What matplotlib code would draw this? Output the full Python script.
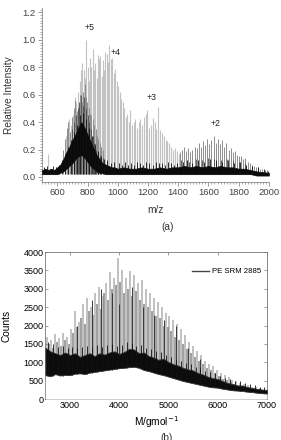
import numpy as np
import matplotlib
matplotlib.use("Agg")
import matplotlib.pyplot as plt
from matplotlib.lines import Line2D
from matplotlib.ticker import MultipleLocator

plt.rcParams['font.family'] = ['Liberation Sans', 'DejaVu Sans']

# ---- panel (a): ESI mass spectrum, m/z vs relative intensity ----
# tall light grey peaks (charge states +5/+4/+3)
a_light_mz = [542, 655, 668, 680, 692, 703, 715, 727, 738, 748, 758, 766, 775, 783, 791,
              800, 808, 816, 825, 834, 843, 852, 860, 868, 876, 884, 893, 903, 911, 919,
              928, 936, 944, 953, 962, 972, 982, 992, 1002, 1012, 1022, 1032, 1042, 1052,
              1062, 1073, 1083, 1094, 1105, 1116, 1127, 1138, 1149, 1160, 1172, 1184, 1195,
              1208, 1220, 1232, 1245, 1256, 1266, 1280, 1292, 1304, 1316, 1328, 1340, 1352,
              1364, 1376, 1390, 1402]
a_light_h = [0.17, 0.30, 0.40, 0.42, 0.38, 0.45, 0.58, 0.55, 0.62, 0.70, 0.78, 0.83, 0.78, 0.72, 1.00,
             0.80, 0.70, 0.87, 0.80, 0.93, 0.78, 0.83, 0.72, 0.89, 0.86, 0.88, 0.74, 0.85, 0.78, 0.91,
             0.90, 0.84, 0.96, 0.86, 0.87, 0.76, 0.79, 0.70, 0.66, 0.62, 0.57, 0.55, 0.50, 0.44,
             0.46, 0.40, 0.49, 0.38, 0.40, 0.42, 0.36, 0.40, 0.42, 0.38, 0.44, 0.46, 0.49,
             0.36, 0.38, 0.43, 0.40, 0.35, 0.51, 0.34, 0.32, 0.30, 0.27, 0.26, 0.25, 0.22,
             0.20, 0.21, 0.19, 0.17]

# +2 charge state series and the darker +5 envelope (mid grey)
a_mid_mz = [640, 650, 662, 674, 686, 697, 709, 720, 731, 742, 752, 762, 772, 781, 790,
            799, 808, 817, 826, 835, 844, 853, 862, 871, 880, 890, 900,
            1410, 1424, 1438, 1452, 1466, 1480, 1494, 1508, 1522, 1536, 1550, 1564, 1578,
            1592, 1606, 1620, 1635, 1649, 1663, 1677, 1691, 1705, 1719, 1733, 1747, 1761,
            1775, 1789, 1803, 1817, 1831, 1845, 1859, 1873, 1887, 1901, 1915, 1929, 1943,
            1957, 1971, 1985]
a_mid_h = [0.20, 0.28, 0.36, 0.40, 0.33, 0.44, 0.50, 0.56, 0.48, 0.52, 0.60, 0.55, 0.62, 0.68, 0.58,
           0.55, 0.50, 0.46, 0.45, 0.42, 0.38, 0.35, 0.30, 0.28, 0.25, 0.22, 0.20,
           0.18, 0.20, 0.22, 0.19, 0.21, 0.18, 0.20, 0.22, 0.21, 0.25, 0.22, 0.26, 0.23,
           0.28, 0.24, 0.27, 0.30, 0.25, 0.28, 0.24, 0.27, 0.22, 0.25, 0.20, 0.21, 0.18,
           0.19, 0.16, 0.15, 0.15, 0.13, 0.14, 0.11, 0.10, 0.09, 0.08, 0.07, 0.07, 0.06,
           0.06, 0.05, 0.05]

# dark peaks sitting in the baseline band
a_dark_mz = [700, 712, 724, 735, 746, 757, 768, 779, 790, 801, 812, 823, 834, 845, 856,
             870, 885, 900, 1420, 1470, 1520, 1560, 1600, 1640, 1680, 1720, 1760, 1800, 1840]
a_dark_h = [0.35, 0.40, 0.45, 0.50, 0.55, 0.60, 0.52, 0.58, 0.50, 0.45, 0.40, 0.35, 0.30, 0.25, 0.20,
            0.18, 0.16, 0.14, 0.12, 0.11, 0.13, 0.12, 0.14, 0.13, 0.12, 0.13, 0.12, 0.11, 0.10]

# black noise band (upper / lower edge) and noise spikes on top of it
a_env_mz = [500, 520, 540, 560, 580, 600, 620, 640, 660, 680, 700, 720, 740, 760, 780,
            800, 820, 840, 860, 880, 900, 920, 940, 960, 980, 1000, 1040, 1080, 1120, 1160,
            1200, 1240, 1280, 1320, 1360, 1400, 1440, 1480, 1520, 1560, 1600, 1640, 1680,
            1720, 1760, 1800, 1840, 1880, 1920, 1960, 2000]
a_env_hi = [0.05, 0.06, 0.05, 0.06, 0.05, 0.07, 0.09, 0.13, 0.18, 0.22, 0.27, 0.31, 0.36, 0.40, 0.36,
            0.31, 0.26, 0.21, 0.16, 0.13, 0.10, 0.09, 0.08, 0.07, 0.07, 0.06, 0.07, 0.06, 0.06, 0.07,
            0.06, 0.06, 0.07, 0.06, 0.07, 0.07, 0.08, 0.07, 0.08, 0.07, 0.08, 0.07, 0.08,
            0.07, 0.07, 0.06, 0.06, 0.05, 0.04, 0.035, 0.03]
a_env_lo = [0.02, 0.02, 0.02, 0.02, 0.02, 0.02, 0.03, 0.04, 0.06, 0.08, 0.10, 0.13, 0.15, 0.16, 0.14,
            0.11, 0.08, 0.06, 0.04, 0.03, 0.03, 0.02, 0.02, 0.02, 0.02, 0.02, 0.02, 0.02, 0.02, 0.02,
            0.02, 0.02, 0.02, 0.02, 0.02, 0.02, 0.02, 0.02, 0.02, 0.02, 0.02, 0.02, 0.02,
            0.02, 0.02, 0.02, 0.02, 0.02, 0.01, 0.01, 0.01]
a_spike_mz = [510, 530, 550, 570, 590, 610, 630, 650, 670, 690, 710, 730, 750, 770, 790,
              810, 830, 850, 870, 890, 910, 930,
              955, 975,
              1010, 1030, 1050, 1070, 1090, 1110, 1130, 1150, 1170, 1190, 1210, 1230, 1250,
              1270, 1290, 1310, 1330, 1350, 1370, 1390,
              1430, 1460, 1490,
              1530, 1570, 1610, 1650, 1690, 1730, 1770, 1810, 1850, 1890, 1930, 1970,
              1995]
a_spike_h = [0.07, 0.08, 0.06, 0.08, 0.07, 0.09, 0.12, 0.17, 0.22, 0.27, 0.33, 0.38, 0.45, 0.47, 0.42,
             0.36, 0.30, 0.24, 0.19, 0.15, 0.13, 0.12,
             0.10, 0.11,
             0.10, 0.09, 0.11, 0.09, 0.10, 0.09, 0.11, 0.10, 0.09, 0.11, 0.10, 0.09, 0.11,
             0.10, 0.10, 0.09, 0.11, 0.10, 0.09, 0.10,
             0.11, 0.12, 0.10,
             0.12, 0.11, 0.13, 0.12, 0.11, 0.12, 0.10, 0.11, 0.09, 0.08, 0.07, 0.06,
             0.04]

a_labels = ['+5', '+4', '+3', '+2']
a_label_mz = [813, 984, 1221, 1647]
a_label_y = [1.09, 0.91, 0.58, 0.39]

# ---- panel (b): MALDI spectrum of PE SRM 2885 ----
b_light_m = [2540, 2620, 2700, 2780, 2860, 2940, 3020, 3100, 3180, 3260, 3340, 3420, 3500, 3580,
             3660, 3740, 3820, 3900, 3980, 4060, 4140, 4220, 4300, 4380, 4460, 4540, 4620, 4700,
             4780, 4860, 4940, 5020, 5100, 5180, 5260, 5340, 5420, 5500, 5580, 5660, 5740, 5820,
             5900, 5980, 6060, 6140, 6220, 6300, 6380, 6460, 6540, 6620, 6700, 6780, 6860, 6940]
b_light_h = [1700, 1600, 1780, 1650, 1800, 1700, 1900, 2400, 2100, 2600, 2750, 2500, 2900, 3050,
             2800, 3150, 3450, 3300, 3850, 3500, 3300, 3480, 3380, 3150, 3250, 3000, 2900, 2750,
             2650, 2500, 2350, 2250, 2150, 2050, 1900, 1750, 1550, 1450, 1300, 1200, 1050, 950,
             900, 800, 700, 650, 600, 520, 480, 440, 400, 370, 340, 320, 290, 260]

b_mid_m = [2580, 2660, 2740, 2820, 2900, 2980, 3060, 3140, 3220, 3300, 3380, 3460, 3540, 3620,
           3700, 3780, 3860, 3940, 4020, 4100, 4180, 4260, 4340, 4420, 4500, 4580, 4660, 4740,
           4820, 4900, 4980, 5060, 5140, 5220, 5300, 5380, 5460, 5540, 5620, 5700, 5780, 5860,
           5940, 6020, 6100, 6180, 6260, 6340, 6420, 6500, 6580, 6660, 6740, 6820, 6900, 6980]
b_mid_h = [1500, 1400, 1550, 1450, 1600, 1500, 1800, 1950, 2200, 2050, 2400, 2300, 2600, 2450,
           2900, 2700, 3000, 3100, 3200, 2900, 3000, 2800, 2950, 2700, 2600, 2500, 2400, 2250,
           2200, 2000, 1950, 1850, 1700, 1600, 1500, 1350, 1250, 1150, 1050, 950, 850, 780,
           700, 620, 560, 510, 460, 420, 390, 360, 330, 310, 290, 270, 250, 230]

b_dark_m = [3150, 3450, 3620, 3860, 4000, 4250, 4480, 4700, 4900, 5150, 5400, 5650]
b_dark_h = [2000, 2700, 3000, 2900, 2600, 3050, 2500, 2300, 2150, 2000, 1400, 1100]

b_env_m = [2500, 2600, 2700, 2800, 2900, 3000, 3100, 3200, 3300, 3400, 3500, 3600, 3700, 3800,
           3900, 4000, 4100, 4200, 4300, 4400, 4500, 4600, 4700, 4800, 4900, 5000, 5100, 5200,
           5300, 5400, 5500, 5600, 5700, 5800, 5900, 6000, 6100, 6200, 6300, 6400, 6500, 6600,
           6700, 6800, 6900, 7000]
b_env_hi = [1400, 1300, 1250, 1200, 1270, 1200, 1250, 1150, 1200, 1250, 1170, 1250, 1210, 1270,
            1300, 1230, 1280, 1370, 1350, 1250, 1270, 1170, 1130, 1070, 1100, 1010, 950, 910,
            850, 810, 780, 710, 670, 610, 570, 550, 490, 440, 410, 370, 370, 330, 300, 280,
            260, 250]
b_env_lo = [650, 620, 680, 640, 660, 650, 690, 700, 680, 720, 740, 760, 780, 800,
            820, 840, 850, 870, 880, 850, 790, 760, 720, 680, 650, 610, 570, 530,
            490, 460, 430, 400, 370, 340, 320, 310, 280, 260, 240, 230, 220, 200,
            190, 170, 160, 150]
b_spike_m = [2550, 2650, 2750, 2850, 2950, 3050, 3150, 3250, 3350, 3450, 3550, 3650, 3750, 3850,
             3950, 4050, 4150, 4250, 4350, 4450, 4550, 4650, 4750, 4850, 4950, 5050, 5150, 5250,
             5350, 5450, 5550, 5650, 5750, 5850, 5950, 6050, 6150, 6250, 6350, 6450, 6550, 6650,
             6750, 6850, 6950]
b_spike_h = [1550, 1500, 1420, 1450, 1400, 1420, 1380, 1420, 1450, 1380, 1460, 1420, 1470, 1500,
             1450, 1480, 1560, 1520, 1450, 1480, 1400, 1350, 1300, 1280, 1200, 1150, 1080, 1040,
             980, 950, 880, 840, 770, 730, 700, 640, 580, 540, 500, 480, 430, 400, 370, 340, 320]


fig = plt.figure(figsize=(2.81, 4.40), dpi=100)

# ---------------- (a) ----------------
ax1 = fig.add_axes([0.150, 0.587, 0.807, 0.394])
ax1.vlines(a_light_mz, 0.02, a_light_h, color='#c2c2c2', lw=0.8, zorder=1)
ax1.vlines(a_mid_mz, 0.02, a_mid_h, color='#8e8e8e', lw=0.7, zorder=2)
ax1.vlines(a_dark_mz, 0.02, a_dark_h, color='#4a4a4a', lw=0.6, zorder=3)
ax1.fill_between(a_env_mz, a_env_lo, a_env_hi, color='#0a0a0a', lw=0.5, edgecolor='#0a0a0a',
                 zorder=4)
ax1.vlines(a_spike_mz, 0.02, a_spike_h, color='#111111', lw=0.6, zorder=5)

for lab, x, y in zip(a_labels, a_label_mz, a_label_y):
    ax1.text(x, y, lab, fontsize=6.3, ha='center', va='center', color='#222222')

ax1.set_xlim(500, 2000)
ax1.set_ylim(-0.035, 1.23)
ax1.xaxis.set_minor_locator(MultipleLocator(20))
ax1.yaxis.set_minor_locator(MultipleLocator(0.02))
ax1.set_xticks([600, 800, 1000, 1200, 1400, 1600, 1800, 2000])
ax1.set_yticks([0.0, 0.2, 0.4, 0.6, 0.8, 1.0, 1.2])
ax1.set_yticklabels(['0.0', '0.2', '0.4', '0.6', '0.8', '1.0', '1.2'])
for s in ['top', 'right']:
    ax1.spines[s].set_visible(False)
for s in ['left', 'bottom']:
    ax1.spines[s].set_color('#888888')
    ax1.spines[s].set_linewidth(0.6)
ax1.tick_params(which='major', length=3, width=0.6, color='#888888', labelsize=6.8,
                labelcolor='#444444', pad=1.5)
ax1.tick_params(which='minor', length=1.5, width=0.5, color='#888888')
ax1.set_ylabel('Relative Intensity', fontsize=7.3, color='#333333')
ax1.set_xlabel('m/z', fontsize=7.3, color='#333333')
ax1.yaxis.set_label_coords(-0.125, 0.5)
ax1.xaxis.set_label_coords(0.5, -0.135)

fig.text(0.598, 0.484, '(a)', fontsize=7.3, ha='center', va='center', color='#333333')

# ---------------- (b) ----------------
ax2 = fig.add_axes([0.1616, 0.093, 0.7884, 0.334])
ax2.vlines(b_light_m, 0, b_light_h, color='#b0b0b0', lw=1.1, zorder=1)
ax2.vlines(b_mid_m, 0, b_mid_h, color='#858585', lw=1.1, zorder=2)
ax2.vlines(b_dark_m, 0, b_dark_h, color='#3a3a3a', lw=0.7, zorder=3)
ax2.fill_between(b_env_m, 0, b_env_lo, color='white', lw=0, zorder=4)
ax2.fill_between(b_env_m, b_env_lo, b_env_hi, color='#0c0c0c', lw=0.6, edgecolor='#3a3a3a',
                 zorder=5)
ax2.vlines(b_spike_m, b_env_lo[:-1], b_spike_h, color='#111111', lw=0.6, zorder=6)

handle = Line2D([], [], color='#444444', lw=1.0)
ax2.legend([handle], ['PE SRM 2885'], loc='upper right', frameon=False, fontsize=5.6,
           handlelength=2.2, handletextpad=0.4, bbox_to_anchor=(1.0, 0.93), borderaxespad=0.3)

ax2.set_xlim(2500, 7000)
ax2.set_ylim(0, 4000)
ax2.set_xticks([3000, 4000, 5000, 6000, 7000])
ax2.set_yticks([0, 500, 1000, 1500, 2000, 2500, 3000, 3500, 4000])
for s in ax2.spines.values():
    s.set_color('#777777')
    s.set_linewidth(0.6)
ax2.tick_params(direction='in', top=True, right=True, length=2, width=0.5, color='#777777',
                labelsize=6.5, pad=1.5)
ax2.set_ylabel('Counts', fontsize=7.3)
ax2.set_xlabel('M/gmol$^{-1}$', fontsize=7.3)
ax2.yaxis.set_label_coords(-0.155, 0.5)
ax2.xaxis.set_label_coords(0.5, -0.105)

fig.text(0.594, 0.005, '(b)', fontsize=7.3, ha='center', va='center', color='#333333')

plt.savefig('out.png', dpi=100)
